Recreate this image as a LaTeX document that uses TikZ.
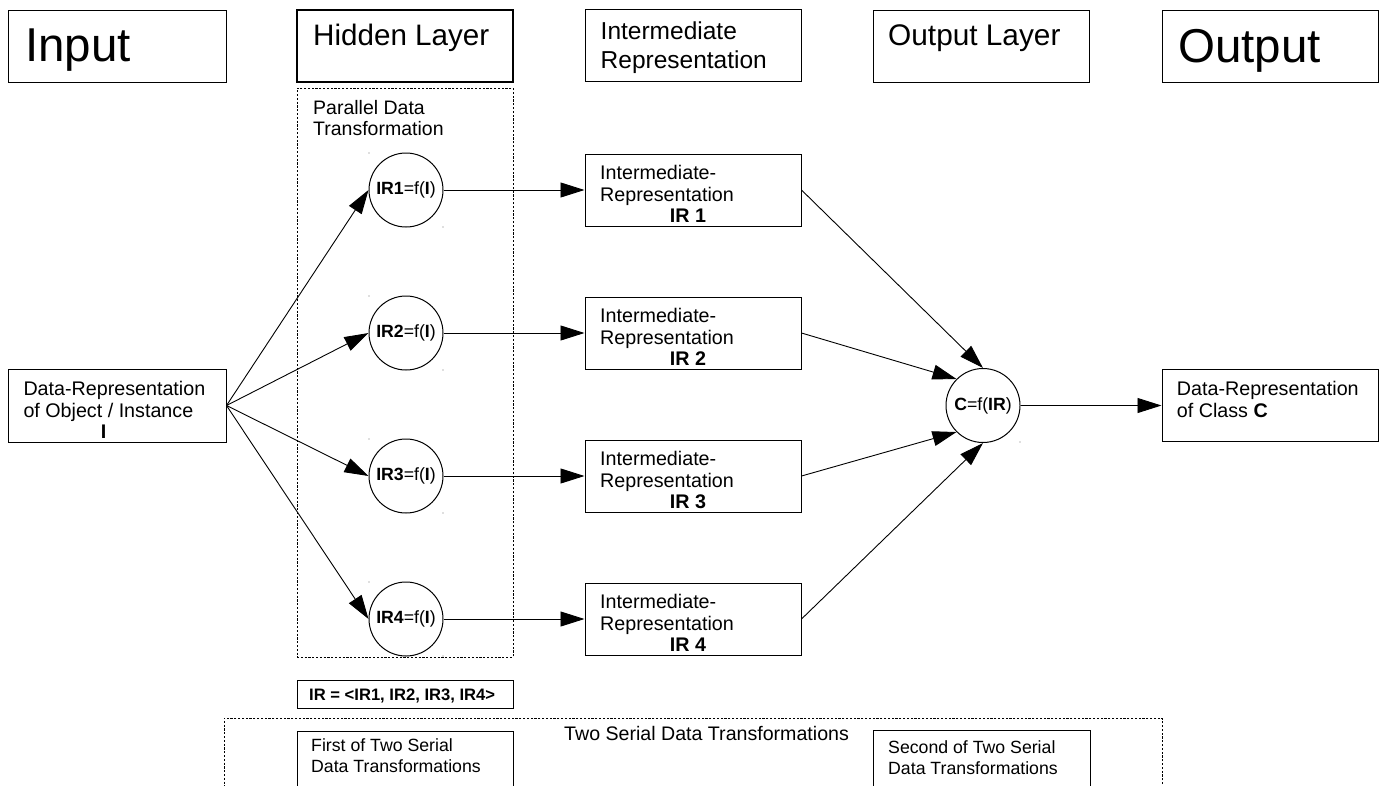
\documentclass[tikz,border=0pt]{standalone}
\usepackage{fontspec}
\setmainfont{Liberation Sans}
\usetikzlibrary{arrows.meta}
\begin{document}
\begin{tikzpicture}[x=1pt,y=-1pt,
  box/.style={draw, line width=1pt, inner sep=0pt},
  dbox/.style={draw, line width=0.8pt, dash pattern=on 2.2pt off 1.6pt, inner sep=0pt},
  circ/.style={draw, circle, line width=1pt, minimum size=74pt, inner sep=0pt, font=\fontsize{17.7}{20}\selectfont},
  t/.style={anchor=base west, inner sep=0pt},
  tc/.style={anchor=base, inner sep=0pt},
  small/.style={font=\fontsize{19.7}{22.5}\selectfont},
  arr/.style={line width=0.9pt, -{Triangle[length=24pt,width=15pt]}},
  dot/.style={fill=black!55}
]
\useasboundingbox (0,0) rectangle (1383,785);
\clip (0,0) rectangle (1383,785);

% header boxes
\node[box, minimum width=218pt, minimum height=72pt] (hin) at (117,46) {};
\node[box, line width=1.6pt, minimum width=216pt, minimum height=72pt] (hhid) at (405,46) {};
\node[box, minimum width=216pt, minimum height=72pt] (hirp) at (693,45.5) {};
\node[box, minimum width=216pt, minimum height=72pt] (hol) at (981,46) {};
\node[box, minimum width=216pt, minimum height=72pt] (hout) at (1270,46) {};

\node[t, font=\fontsize{47.5}{54}\selectfont] (tin) at (25,61) {Input};
\node[t, font=\fontsize{29.6}{34}\selectfont] (thid) at (313,45) {Hidden Layer};
\node[t, font=\fontsize{24.5}{29}\selectfont] (tirp1) at (600.5,39.3) {Intermediate};
\node[t, font=\fontsize{24.5}{29}\selectfont] (tirp2) at (600.5,68.3) {Representation};
\node[t, font=\fontsize{29.8}{34}\selectfont] (tol) at (888,45.5) {Output Layer};
\node[t, font=\fontsize{47.5}{54}\selectfont] (tout) at (1178,62) {Output};

% parallel dashed box
\node[dbox, minimum width=216pt, minimum height=569pt] (par) at (405,372.5) {};
\node[t, font=\fontsize{19.5}{22}\selectfont] (tpar1) at (313,114) {Parallel Data};
\node[t, font=\fontsize{19.5}{22}\selectfont] (tpar2) at (313,135.5) {Transformation};

% input data box
\node[box, minimum width=218pt, minimum height=73pt] (din) at (117,405.5) {};
\node[t, small] (din1) at (23.3,395.3) {Data-Representation};
\node[t, small] (din2) at (23.3,417.3) {of Object / Instance};
\node[tc, small] (din3) at (103.5,438.5) {\textbf{I}};

% output data box
\node[box, minimum width=216pt, minimum height=72pt] (dout) at (1270,405.5) {};
\node[t, small] (dout1) at (1176.7,395.3) {Data-Representation};
\node[t, small] (dout2) at (1176.7,417.3) {of Class \textbf{C}};

% circles
\node[circ] (c1) at (406,190) {\textbf{IR1}=f(\textbf{I})};
\node[circ] (c2) at (406,333) {\textbf{IR2}=f(\textbf{I})};
\node[circ] (c3) at (406,476) {\textbf{IR3}=f(\textbf{I})};
\node[circ] (c4) at (406,619) {\textbf{IR4}=f(\textbf{I})};
\node[circ] (cc) at (983,405.5) {\textbf{C}=f(\textbf{IR})};

% IR boxes
\foreach \k/\c in {1/190,2/333,3/476,4/619}{
  \node[box, minimum width=216pt, minimum height=72pt] (irb\k) at (693,\c) {};
  \node[t, small] (irbA\k) at (600,\c-10.7) {Intermediate-};
  \node[t, small] (irbB\k) at (600,\c+11.7) {Representation};
  \node[tc, small] (irbC\k) at (688,\c+32.7) {\textbf{IR \k}};
}

% artefact dots
\foreach \c in {190,333,476,619}{
  \fill[dot] (369,\c-37) circle (0.7);
  \fill[dot] (443,\c+37) circle (0.7);
}
\fill[dot] (1020,442) circle (0.7);

% connectors
\foreach \k in {1,2,3,4}{
  \draw[arr] (din.east) -- (c\k.west);
  \draw[arr] (c\k.east) -- (irb\k.west);
}
\draw[arr] (irb1.east) -- (cc.north);
\draw[arr] (irb2.east) -- (cc.north west);
\draw[arr] (irb3.east) -- (cc.south west);
\draw[arr] (irb4.east) -- (cc.south);
\draw[arr] (cc.east) -- (dout.west);

% IR definition
\node[box, minimum width=216pt, minimum height=28pt] (irdef) at (405,694) {};
\node[t, font=\bfseries\fontsize{16.6}{18}\selectfont] (tirdef) at (309,700) {IR = <IR1, IR2, IR3, IR4>};

% bottom serial box
\node[dbox, minimum width=938pt, minimum height=82pt] (ser) at (693,759) {};
\node[t, font=\fontsize{19.6}{23}\selectfont] (tser) at (564,740) {Two Serial Data Transformations};
\node[box, minimum width=216pt, minimum height=69pt] (first) at (405,765.5) {};
\node[t, font=\fontsize{17.7}{20.4}\selectfont] (tf1) at (311,751) {First of Two Serial};
\node[t, font=\fontsize{17.7}{20.4}\selectfont] (tf2) at (311,772) {Data Transformations};
\node[box, minimum width=217pt, minimum height=70pt] (second) at (981.5,765) {};
\node[t, font=\fontsize{17.7}{20.4}\selectfont] (ts1) at (888,753) {Second of Two Serial};
\node[t, font=\fontsize{17.7}{20.4}\selectfont] (ts2) at (888,774) {Data Transformations};
\end{tikzpicture}
\end{document}
